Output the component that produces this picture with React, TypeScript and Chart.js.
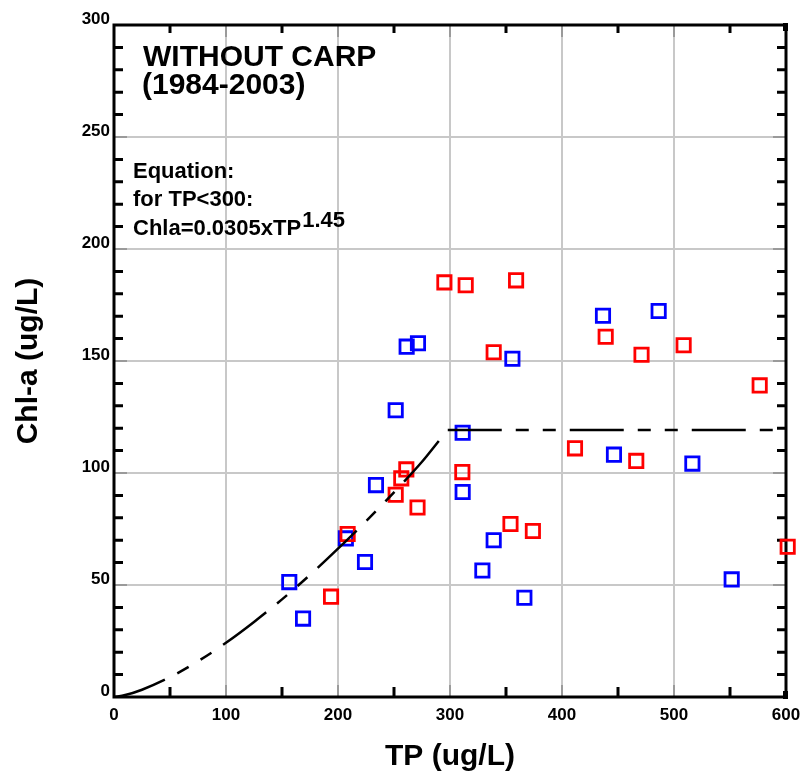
import React, { useEffect, useRef } from "react";
import { Chart, registerables } from "chart.js";

Chart.register(...registerables);

// Data
const redTP = [295, 314, 359, 339, 261, 256.5, 251.5, 271, 311, 208.6, 193.8, 354, 374, 439, 471, 508.6, 576.5, 411.6, 466.3, 601.5];
const redChl = [185.1, 183.8, 186, 153.9, 101.6, 97.6, 90.3, 84.6, 100.4, 72.8, 44.8, 77.2, 74.1, 160.8, 152.8, 157, 139.1, 111, 105.4, 67.1];
const blueTP = [261.3, 271.4, 355.7, 251.5, 311.3, 233.9, 311.3, 207, 224.1, 156.5, 168.8, 339, 328.9, 366.4, 436.6, 486.3, 446.4, 516.4, 551.5];
const blueChl = [156.4, 157.9, 151, 128, 118, 94.6, 91.5, 70.8, 60.3, 51.3, 35, 70, 56.5, 44.3, 170.2, 172.3, 108.2, 104.2, 52.5];

// Fitted curve (Chla = 0.0305 x TP^1.45 for TP < 300)
const curveTP = [0, 10, 25, 50, 75, 100, 125, 150, 175, 200, 225, 250, 275, 290];
const curveChl = [0, 0.86, 3.25, 8.87, 15.96, 24.2, 33.5, 43.6, 54.5, 66.2, 78.5, 91.4, 105.0, 114.3];
// Plateau above TP = 300
const plateauTP = [298, 600];
const plateauChl = [119.2, 119.2];

const xTickLabels = ["0", "100", "200", "300", "400", "500", "600"];
const yTickLabels = ["0", "50", "100", "150", "200", "250", "300"];

const FONT = '"Liberation Sans", Arial, Helvetica, sans-serif';
const DASH = [54, 14, 13, 14, 13, 14];

const zip = (xs: number[], ys: number[]) => xs.map((x, i) => ({ x, y: ys[i] }));

const framePlugin = {
  id: "frameTicks",
  beforeDatasetsDraw(chart: any) {
    const { ctx, chartArea: a, scales } = chart;
    const xs = scales.x;
    const ys = scales.y;
    ctx.save();
    for (let v = 10; v < 300; v += 10) {
      const py = ys.getPixelForValue(v);
      const major = v % 50 === 0;
      ctx.strokeStyle = major ? "#9a9a9a" : "#000";
      ctx.lineWidth = major ? 2 : 3;
      const len = major ? 13 : 9;
      ctx.beginPath();
      ctx.moveTo(a.left, py);
      ctx.lineTo(a.left + len, py);
      ctx.moveTo(a.right, py);
      ctx.lineTo(a.right - len, py);
      ctx.stroke();
    }
    for (let v = 50; v < 600; v += 50) {
      const px = xs.getPixelForValue(v);
      const major = v % 100 === 0;
      ctx.strokeStyle = major ? "#9a9a9a" : "#000";
      ctx.lineWidth = major ? 2 : 3;
      ctx.beginPath();
      ctx.moveTo(px, a.bottom);
      ctx.lineTo(px, a.bottom - (major ? 12 : 10));
      ctx.moveTo(px, a.top);
      ctx.lineTo(px, a.top + (major ? 12 : 8));
      ctx.stroke();
    }
    ctx.strokeStyle = "#000";
    ctx.lineWidth = 3;
    ctx.strokeRect(a.left, a.top, a.right - a.left, a.bottom - a.top);
    ctx.fillStyle = "#000";
    ctx.fillRect(a.right - 3, a.top - 2, 5, 8);
    ctx.fillRect(a.right - 3, a.bottom - 6, 5, 8);
    ctx.restore();
  },
  afterDraw(chart: any) {
    const { ctx, chartArea: a } = chart;
    ctx.save();
    ctx.fillStyle = "#000";
    ctx.textBaseline = "alphabetic";
    ctx.textAlign = "left";
    ctx.font = `bold 30px ${FONT}`;
    ctx.fillText("WITHOUT CARP", a.left + 29, 66);
    ctx.fillText("(1984-2003)", a.left + 28, 94);
    ctx.font = `bold 22px ${FONT}`;
    ctx.fillText("Equation:", a.left + 19, 178);
    ctx.fillText("for TP<300:", a.left + 19, 206);
    const base = "Chla=0.0305xTP";
    ctx.fillText(base, a.left + 19, 235);
    const w = ctx.measureText(base).width;
    ctx.fillText("1.45", a.left + 19 + w + 1, 227);
    ctx.restore();
  },
};

export default function App() {
  const ref = useRef<HTMLCanvasElement | null>(null);
  useEffect(() => {
    if (!ref.current) return;
    const chart = new Chart(ref.current, {
      type: "scatter",
      data: {
        datasets: [
          {
            label: "fit",
            data: zip(curveTP, curveChl),
            showLine: true,
            borderColor: "#000",
            borderWidth: 2.5,
            borderDash: DASH,
            pointRadius: 0,
            cubicInterpolationMode: "monotone",
            fill: false,
          } as any,
          {
            label: "plateau",
            data: zip(plateauTP, plateauChl),
            showLine: true,
            borderColor: "#000",
            borderWidth: 2.5,
            borderDash: DASH,
            pointRadius: 0,
            fill: false,
          } as any,
          {
            label: "red",
            data: zip(redTP, redChl),
            pointStyle: "rect",
            pointRadius: 9.4,
            pointBorderWidth: 2.8,
            borderColor: "#ff0000",
            backgroundColor: "rgba(0,0,0,0)",
            clip: false,
          } as any,
          {
            label: "blue",
            data: zip(blueTP, blueChl),
            pointStyle: "rect",
            pointRadius: 9.4,
            pointBorderWidth: 2.8,
            borderColor: "#0000ff",
            backgroundColor: "rgba(0,0,0,0)",
            clip: false,
          } as any,
        ],
      },
      options: {
        animation: false,
        responsive: false,
        maintainAspectRatio: false,
        layout: { padding: { left: 0, top: 25, right: 16, bottom: 0 } },
        plugins: {
          legend: { display: false },
          tooltip: { enabled: false },
        },
        scales: {
          x: {
            type: "linear",
            min: 0,
            max: 600,
            afterFit: (s: any) => {
              s.height = 86;
              s.paddingLeft = 0;
              s.paddingRight = 0;
            },
            border: { display: false },
            grid: { color: "#c8c8c8", lineWidth: 2, drawTicks: false },
            ticks: {
              stepSize: 100,
              padding: 8,
              color: "#000",
              font: { family: FONT, size: 17, weight: "bold" },
              callback: (v: any) => {
                const i = Math.round(Number(v) / 100);
                return xTickLabels[i] ?? "";
              },
            },
            title: {
              display: true,
              text: "TP (ug/L)",
              color: "#000",
              font: { family: FONT, size: 30, weight: "bold" },
              padding: { top: 0, bottom: 8 },
            },
          },
          y: {
            type: "linear",
            min: 0,
            max: 300,
            afterFit: (s: any) => {
              s.width = 114;
              s.paddingTop = 0;
              s.paddingBottom = 0;
            },
            border: { display: false },
            grid: { color: "#c8c8c8", lineWidth: 2, drawTicks: false },
            ticks: {
              stepSize: 50,
              padding: 4,
              labelOffset: -6,
              color: "#000",
              font: { family: FONT, size: 17, weight: "bold" },
              callback: (v: any) => {
                const i = Math.round(Number(v) / 50);
                return yTickLabels[i] ?? "";
              },
            },
            title: {
              display: true,
              text: "Chl-a (ug/L)",
              color: "#000",
              font: { family: FONT, size: 30, weight: "bold" },
              padding: { top: 11, bottom: 0 },
            },
          },
        },
      },
      plugins: [framePlugin],
    });
    return () => chart.destroy();
  }, []);
  return (
    <div style={{ position: "fixed", left: 0, top: 0, width: 802, height: 783, background: "#fff" }}>
      <canvas ref={ref} width={802} height={783} style={{ display: "block", width: 802, height: 783 }} />
    </div>
  );
}
